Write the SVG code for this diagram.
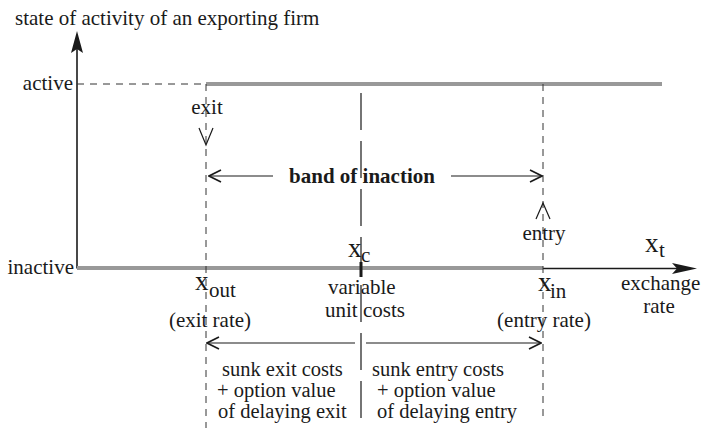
<svg xmlns="http://www.w3.org/2000/svg" width="702" height="432" viewBox="0 0 702 432" font-family="'Liberation Serif', 'DejaVu Serif', serif">
<style>
text{font-family:'Liberation Serif','DejaVu Serif',serif;font-size:21px;fill:#1a1a1a}
.b{font-weight:bold}
.big{font-size:27px}
.cost{font-size:20.5px}
.dash{stroke:#333;stroke-width:1;stroke-dasharray:7 6;fill:none}
.state{stroke:#999;stroke-width:4;fill:none}
.ax{stroke:#1a1a1a;stroke-width:1.6;fill:none}
.thin{stroke:#1a1a1a;stroke-width:1.2;fill:none}
.head{fill:#1a1a1a;stroke:none}
</style>
<defs>
<marker id="chev" viewBox="0 0 14 14" refX="13" refY="7" markerWidth="14" markerHeight="14" markerUnits="userSpaceOnUse" orient="auto">
<path d="M1,1 L13,7 L1,13" fill="none" stroke="#1a1a1a" stroke-width="1.6"/>
</marker>
</defs>
<rect width="702" height="432" fill="#fff"/>
<g id="axes">
<line class="ax" x1="77" y1="268.5" x2="77" y2="45"/>
<path class="head" d="M77,31 L83,53 L77,49 L71,53 Z"/>
<line class="ax" x1="543" y1="268.5" x2="680" y2="268.5"/>
<path class="head" d="M697,268.5 L672,263 L677,268.5 L672,274 Z"/>
</g>
<g id="connectors">
<line class="state" x1="206" y1="84" x2="662" y2="84"/>
<line class="state" x1="77" y1="268" x2="543" y2="268"/>
<line class="dash" x1="77" y1="84" x2="206" y2="84"/>
<line class="dash" x1="206" y1="84" x2="206" y2="428"/>
<line class="dash" x1="543" y1="84" x2="543" y2="416"/>
<line class="thin" x1="361" y1="93" x2="361" y2="425" stroke-dasharray="37 11"/>
<line x1="361" y1="262" x2="361" y2="277" stroke="#1a1a1a" stroke-width="3"/>
<line class="thin" x1="273" y1="176" x2="209" y2="176" marker-end="url(#chev)"/>
<line class="thin" x1="451" y1="176" x2="542" y2="176" marker-end="url(#chev)"/>
<line class="thin" x1="355" y1="343" x2="207" y2="343" marker-end="url(#chev)"/>
<line class="thin" x1="366" y1="343" x2="541" y2="343" marker-end="url(#chev)"/>
<path class="thin" d="M199,128 L206,145 L213,128"/>
<path class="thin" d="M536,219 L543,203 L550,219"/>
</g>
<g id="title"><text x="15" y="25">state of activity of an exporting firm</text></g>
<g id="active"><text x="73" y="90" text-anchor="end">active</text></g>
<g id="inactive"><text x="74" y="274" text-anchor="end">inactive</text></g>
<g id="exit"><text x="207" y="114" text-anchor="middle">exit</text></g>
<g id="entry"><text x="544" y="240" text-anchor="middle">entry</text></g>
<g id="band"><text class="b" x="362" y="183" text-anchor="middle">band of inaction</text></g>
<g id="xc"><text x="348" y="257"><tspan class="big">x</tspan><tspan x="361" y="262">c</tspan></text>
<text x="328" y="294">variable</text><text x="325" y="317">unit costs</text></g>
<g id="xout"><text x="195" y="290"><tspan class="big">x</tspan><tspan x="209" y="297">out</tspan></text>
<text x="210" y="327" text-anchor="middle">(exit rate)</text></g>
<g id="xin"><text x="538" y="291"><tspan class="big">x</tspan><tspan x="550" y="298">in</tspan></text>
<text x="544" y="327" text-anchor="middle">(entry rate)</text></g>
<g id="xt"><text x="645" y="252"><tspan class="big">x</tspan><tspan x="659" y="257">t</tspan></text>
<text x="621" y="290">exchange</text><text x="659" y="313" text-anchor="middle">rate</text></g>
<g id="exitcosts"><text class="cost" x="222" y="376">sunk exit costs</text><text class="cost" x="217" y="397">+ option value</text><text class="cost" x="218" y="418">of delaying exit</text></g>
<g id="entrycosts"><text class="cost" x="372" y="376">sunk entry costs</text><text class="cost" x="377" y="397">+ option value</text><text class="cost" x="377" y="418">of delaying entry</text></g>
</svg>
